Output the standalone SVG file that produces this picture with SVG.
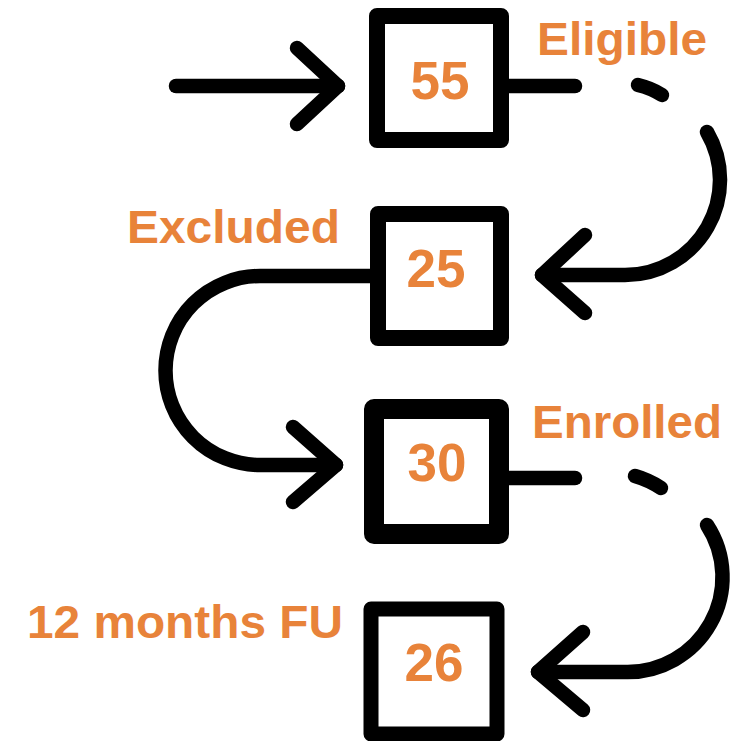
<svg xmlns="http://www.w3.org/2000/svg" width="744" height="741" viewBox="0 0 744 741">
<style>
.box{fill:#fff;stroke:#000;stroke-linejoin:round}
.num{font-family:"Liberation Sans",Arial,sans-serif;font-weight:bold;font-size:53px;fill:#E8833A;text-anchor:middle}
.lbl{font-family:"Liberation Sans",Arial,sans-serif;font-weight:bold;font-size:47px;fill:#E8833A}
.ln{fill:none;stroke:#000;stroke-width:14.5;stroke-linecap:round;stroke-linejoin:round}
</style>
<rect width="744" height="741" fill="#fff"/>
<g id="connectors">
  <path class="ln" d="M176 86 H338"/>
  <path class="ln" d="M297 48 L338 86 L297 124"/>
  <path class="ln" d="M509 86 H575"/>
  <path class="ln" d="M638 85 Q651 88 662 95"/>
  <path class="ln" d="M707 132 A95 95 0 0 1 625 275 H542"/>
  <path class="ln" d="M585 235 L542 275 L585 313"/>
  <path class="ln" d="M370 276 H260 A94.5 94.5 0 0 0 260 465 H336"/>
  <path class="ln" d="M293 427 L336 465 L293 502"/>
  <path class="ln" d="M509 478 H575"/>
  <path class="ln" d="M635 476 Q649 480 661 488"/>
  <path class="ln" d="M707 525 A95 95 0 0 1 625 672 H538"/>
  <path class="ln" d="M583 632 L538 672 L583 710"/>
</g>
<g id="node-eligible">
  <rect class="box" x="377" y="16" width="124" height="124" stroke-width="16"/>
  <text class="num" x="440" y="99">55</text>
  <text class="lbl" x="537" y="55" textLength="170" lengthAdjust="spacingAndGlyphs">Eligible</text>
</g>
<g id="node-excluded">
  <rect class="box" x="378" y="214" width="123" height="124" stroke-width="16"/>
  <text class="num" x="436" y="287">25</text>
  <text class="lbl" x="127" y="243" textLength="213" lengthAdjust="spacingAndGlyphs">Excluded</text>
</g>
<g id="node-enrolled">
  <rect class="box" x="374" y="409" width="125" height="125" stroke-width="20"/>
  <text class="num" x="437" y="481">30</text>
  <text class="lbl" x="532" y="438" textLength="190" lengthAdjust="spacingAndGlyphs">Enrolled</text>
</g>
<g id="node-fu">
  <rect class="box" x="371" y="609" width="126" height="125" stroke-width="15"/>
  <text class="num" x="434" y="681">26</text>
  <text class="lbl" x="27" y="638" textLength="316" lengthAdjust="spacingAndGlyphs">12 months FU</text>
</g>
</svg>
